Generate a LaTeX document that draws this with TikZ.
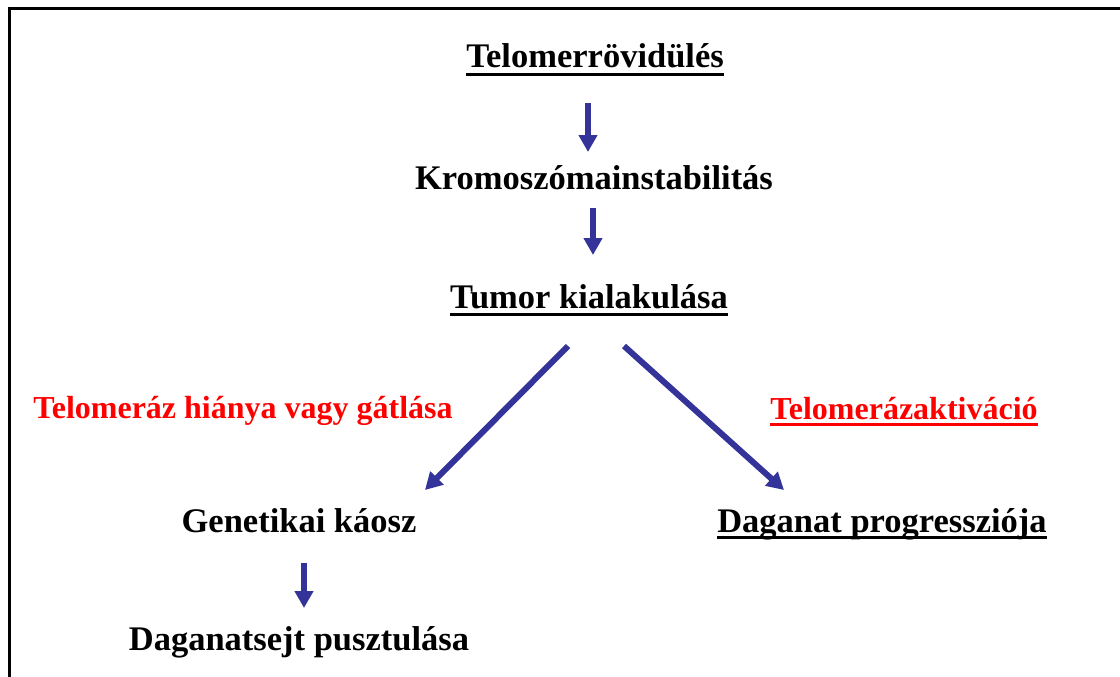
\documentclass[tikz,border=0pt]{standalone}
\usepackage{fontspec}
\setmainfont{Liberation Serif}
\usetikzlibrary{arrows.meta}
\definecolor{arrblue}{RGB}{51,51,153}
\definecolor{lblred}{RGB}{255,0,0}
\begin{document}
\begin{tikzpicture}[x=1pt,y=-1pt,
  lbl/.style={anchor=base,inner sep=0pt,font=\fontsize{34.5}{40}\selectfont\bfseries},
  redlbl/.style={anchor=base,inner sep=0pt,text=lblred,font=\fontsize{32}{38}\selectfont\bfseries},
  arr/.style={draw=arrblue,line width=6pt,-{Triangle[width=18pt,length=17pt]}},
  ulblack/.style={draw=black,line width=3pt},
  ulred/.style={draw=lblred,line width=3pt},
  frame/.style={draw=black,line width=3pt}]
\useasboundingbox (0,0) rectangle (1120,677);
\draw[frame] (9.5,677) -- (9.5,8.5) -- (1120,8.5);

\node[lbl] (t1) at (595,68) {Telomerrövidülés};
\node[lbl] (t2) at (594,189) {Kromoszómainstabilitás};
\node[lbl] (t3) at (589,308) {Tumor kialakulása};
\node[redlbl] (t4) at (243,418) {Telomeráz hiánya vagy gátlása};
\node[redlbl] (t5) at (904,419) {Telomerázaktiváció};
\node[lbl] (t6) at (299,532) {Genetikai káosz};
\node[lbl] (t7) at (882,532) {Daganat progressziója};
\node[lbl] (t8) at (299,650) {Daganatsejt pusztulása};

\draw[ulblack] ([yshift=-6.5pt]t1.base west) -- ([yshift=-6.5pt]t1.base east);
\draw[ulblack] ([yshift=-6.5pt]t3.base west) -- ([yshift=-6.5pt]t3.base east);
\draw[ulred] ([yshift=-5pt]t5.base west) -- ([yshift=-5pt]t5.base east);
\draw[ulblack] ([yshift=-5.5pt]t7.base west) -- ([yshift=-5.5pt]t7.base east);

\draw[arr] ([shift={(-7,35)}]t1.base) -- ([shift={(-6,-37)}]t2.base);
\draw[arr] ([shift={(-1,19)}]t2.base) -- ([shift={(4,-53)}]t3.base);
\draw[arr] ([shift={(-21,38)}]t3.base) -- ([shift={(126,-42)}]t6.base);
\draw[arr] ([shift={(35,38)}]t3.base) -- ([shift={(-98,-42)}]t7.base);
\draw[arr] ([shift={(5,31)}]t6.base) -- ([shift={(5,-42)}]t8.base);
\end{tikzpicture}
\end{document}
